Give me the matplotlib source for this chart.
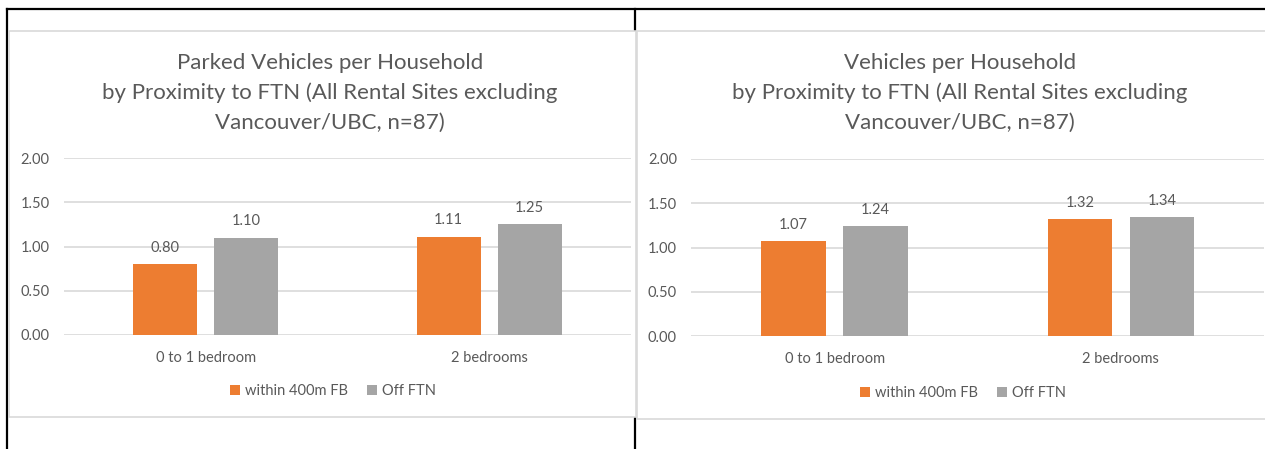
import matplotlib.pyplot as plt
from matplotlib.patches import Rectangle, Patch
from matplotlib.lines import Line2D
import numpy as np

plt.rcParams['font.family'] = ['Lato', 'DejaVu Sans']

categories = ['0 to 1 bedroom', '2 bedrooms']
series_names = ['within 400m FB', 'Off FTN']
parked_within = [0.80, 1.11]
parked_off = [1.10, 1.25]
vehicles_within = [1.07, 1.32]
vehicles_off = [1.24, 1.34]
y_ticks = [0.0, 0.5, 1.0, 1.5, 2.0]

titles = [
    ['Parked Vehicles per Household',
     'by Proximity to FTN (All Rental Sites excluding',
     'Vancouver/UBC, n=87)'],
    ['Vehicles per Household',
     'by Proximity to FTN (All Rental Sites excluding',
     'Vancouver/UBC, n=87)'],
]

ORANGE = '#ED7D31'
GREY = '#A5A5A5'
TEXT = '#595959'
GRID = '#D9D9D9'

W, H = 1265, 449
fig = plt.figure(figsize=(W / 100, H / 100), dpi=100)
fig.patch.set_facecolor('white')


def fx(x):
    return x / W


def fy(y):
    return 1 - y / H


# table borders behind the chart boxes
for xs, ys in [((7, 1265), (9, 9)), ((7, 7), (9, 449)), ((635, 635), (9, 449))]:
    fig.add_artist(Line2D([fx(v) for v in xs], [fy(v) for v in ys],
                          color='black', lw=1.6, zorder=0))

# chart boxes: (left, top, right, bottom) in pixels
boxes = [(8.5, 30.5, 636, 416.5), (636.5, 30.5, 1290, 419)]
for l, t, r, b in boxes:
    fig.add_artist(Rectangle((fx(l), fy(b)), fx(r - l), (b - t) / H,
                             facecolor='white', edgecolor=GRID, lw=1.2, zorder=1))

# plot areas: (left, right, y of 2.00, y of 0.00)
plot_areas = [(64, 631, 158, 335), (691.5, 1264, 159, 336)]
title_x = [330, 960]
title_base = [69, 69]
legend_pos = [(333, 391), (963, 393)]
data = [(parked_within, parked_off), (vehicles_within, vehicles_off)]

x = np.arange(len(categories))
width = 0.225
offset = 0.143

for i in range(2):
    l, r, t, b = plot_areas[i]
    ax = fig.add_axes([fx(l), fy(b), (r - l) / W, (b - t) / H], zorder=2)
    ax.patch.set_alpha(0)
    within, off = data[i]
    bars1 = ax.bar(x - offset, within, width, color=ORANGE, zorder=3)
    bars2 = ax.bar(x + offset, off, width, color=GREY, zorder=3)
    for bars, vals in [(bars1, within), (bars2, off)]:
        for bar, v in zip(bars, vals):
            ax.annotate(f'{v:.2f}', (bar.get_x() + bar.get_width() / 2, v),
                        xytext=(0, 12), textcoords='offset points',
                        ha='center', va='center', fontsize=10.5, color=TEXT)

    ax.set_xlim(-0.5, 1.5)
    ax.set_ylim(0, 2)
    ax.set_yticks(y_ticks)
    ax.set_yticklabels([f'{v:.2f}' for v in y_ticks])
    ax.set_xticks(x)
    ax.set_xticklabels(categories)
    ax.tick_params(axis='both', length=0, colors=TEXT, labelsize=10.5)
    ax.tick_params(axis='y', pad=10.5)
    ax.tick_params(axis='x', pad=11.5)
    ax.yaxis.grid(True, color=GRID, lw=1.2, zorder=0)
    ax.set_axisbelow(True)
    for s in ax.spines.values():
        s.set_visible(False)

    for k, line in enumerate(titles[i]):
        fig.text(fx(title_x[i]), fy(title_base[i] + 30 * k), line,
                 ha='center', va='baseline', fontsize=16, color=TEXT, zorder=3)

    handles = [Patch(facecolor=ORANGE), Patch(facecolor=GREY)]
    lx, ly = legend_pos[i]
    ax.legend(handles, series_names, loc='center', ncol=2, frameon=False,
              bbox_to_anchor=(fx(lx), fy(ly)), bbox_transform=fig.transFigure,
              fontsize=10.5, labelcolor=TEXT, handlelength=0.7, handleheight=0.7,
              handletextpad=0.35, columnspacing=1.3)

fig.savefig('out.png', dpi=100)
